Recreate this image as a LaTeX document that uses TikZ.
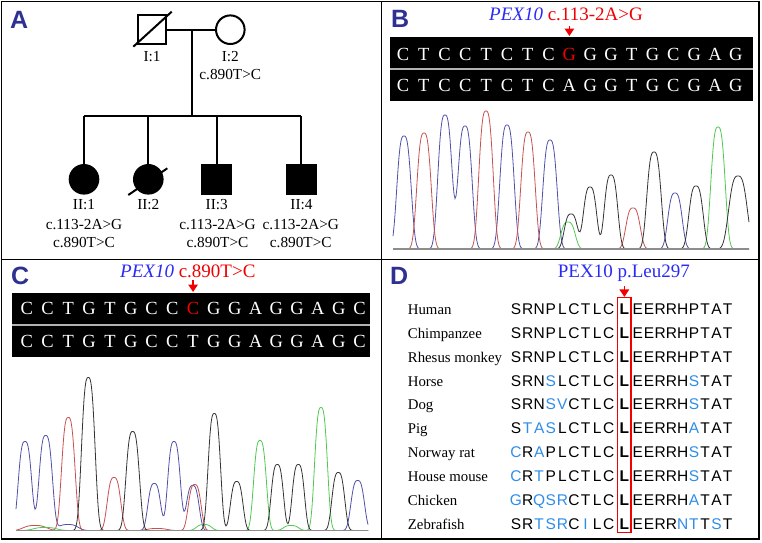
\documentclass[tikz,border=0pt]{standalone}
\usepackage{fontspec}
\setmainfont{Liberation Serif}
\newfontfamily\arialfont{Liberation Sans}
\usetikzlibrary{arrows.meta}

\definecolor{letterblue}{HTML}{2E3192}
\definecolor{geneblue}{HTML}{2A2AF5}
\definecolor{mutred}{HTML}{F00000}
\definecolor{aablue}{HTML}{2F8DE8}
\definecolor{trblue}{HTML}{5050A8}
\definecolor{trred}{HTML}{C85050}
\definecolor{trgreen}{HTML}{50C850}
\definecolor{trblack}{HTML}{333333}

\tikzset{
  panel/.style={line width=1.5pt},
  panelletter/.style={font=\arialfont\bfseries\fontsize{25}{25}\selectfont, text=letterblue, inner sep=0pt, anchor=base west},
  pedline/.style={line width=2pt},
  male/.style={draw, line width=2pt, rectangle, minimum size=28.6pt, inner sep=0pt},
  female/.style={draw, line width=2pt, circle, minimum size=28.6pt, inner sep=0pt},
  affected/.style={fill=black},
  pedlabel/.style={font=\fontsize{15.3}{15.3}\selectfont, inner sep=0pt, anchor=base},
  header/.style={font=\fontsize{19}{19}\selectfont, inner sep=0pt, anchor=base west},
  seqbar/.style={fill=black, inner sep=0pt},
  nuc/.style={font=\fontsize{18.5}{18.5}\selectfont, text=white, inner sep=0pt, anchor=base},
  mutarrow/.style={mutred, line width=1.6pt, -{Triangle[width=9.5pt,length=7.5pt]}},
  trace/.style={line width=0.8pt},
  chrombase/.style={draw=black!45, line width=1.3pt},
  species/.style={font=\fontsize{14.8}{14.8}\selectfont, inner sep=0pt, anchor=base west},
  residue/.style={font=\arialfont\fontsize{15.5}{15.5}\selectfont, inner sep=0pt, anchor=base},
}

\begin{document}
\begin{tikzpicture}[x=1pt, y=-1pt,
    declare function={pk(\xx,\cc,\hh,\ss)=\hh*exp(-min(abs((\xx-\cc)/\ss),3)^3);}]
    \useasboundingbox (0,0) rectangle (762,542);

    % frames
    \draw[panel] (1.5,1.5) rectangle (759,539);
    \draw[panel] (381.7,1.5) -- (381.7,539);
    \draw[panel] (1.5,259.3) -- (759,259.3);

    \node[panelletter] (pA) at (10,28) {A};
    \node[panelletter] (pB) at (391,27) {B};
    \node[panelletter] (pC) at (11,284) {C};
    \node[panelletter] (pD) at (390,284) {D};

    % pedigree
    \node[male] (I1) at (152,29.7) {};
    \node[female] (I2) at (230.3,29.7) {};
    \coordinate (mate) at (191.7,29.7);
    \coordinate (sib) at (191.7,116);
    \node[female, affected] (II1) at (84,179.3) {};
    \node[female, affected] (II2) at (148.3,179.3) {};
    \node[male, affected] (II3) at (216.7,179.3) {};
    \node[male, affected] (II4) at (301.2,179.3) {};

    \draw[pedline] (I1) -- (I2);
    \draw[pedline] (mate) -- (sib);
    \draw[pedline] (II1.north |- sib) -- (II4.north |- sib);
    \foreach \c in {II1,II2,II3,II4}
        \draw[pedline] (\c.north |- sib) -- (\c);
    \draw[pedline] ([shift={(-18.7,17)}]I1.center) -- ([shift={(19.7,-18)}]I1.center);
    \draw[pedline] ([shift={(-20,15.7)}]II2.center) -- ([shift={(19,-11)}]II2.center);

    \node[pedlabel] (tI1) at (152,61) {I:1};
    \node[pedlabel] (tI2) at (230.3,61) {I:2};
    \node[pedlabel] (gI2) at (230.3,79.3) {c.890T>C};
    \node[pedlabel] (tII1) at (84,209.3) {II:1};
    \node[pedlabel] (tII2) at (148.3,209.3) {II:2};
    \node[pedlabel] (tII3) at (216.7,209.3) {II:3};
    \node[pedlabel] (tII4) at (301.5,209.3) {II:4};
    \foreach \c/\x in {II1/84,II3/217.5,II4/300.8} {
        \node[pedlabel] (a\c) at (\x,229.3) {c.113-2A>G};
        \node[pedlabel] (b\c) at (\x,247.3) {c.890T>C};
    }

    % B: c.113-2A>G
    \node[header] (hdB) at (489,20.7) {\textcolor{geneblue}{\itshape PEX10} \textcolor{mutred}{c.113-2A>G}};
    \node[seqbar, minimum width=362.4pt, minimum height=31pt] (barB1) at (571.5,52.8) {};
    \node[seqbar, minimum width=362.4pt, minimum height=31.3pt] (barB2) at (571.5,85.35) {};
    \fill[black!30] (390.3,68.3) rectangle (752.7,69.7);
    \foreach \b [count=\i from 0] in {C,T,C,C,T,C,T,C,G,G,G,T,G,C,G,A,G} {
        \ifnum\i=8 \def\bc{mutred}\else\def\bc{white}\fi
        \node[nuc, text=\bc] (mB-\i) at (403+20.8*\i,60) {\b};
    }
    \foreach \b [count=\i from 0] in {C,T,C,C,T,C,T,C,A,G,G,T,G,C,G,A,G}
        \node[nuc] (wB-\i) at (403+20.8*\i,91.7) {\b};
    \draw[mutarrow] (mB-8 |- 0,25.5) -- (mB-8 |- 0,36);

    \draw[trace, trblue] plot[domain=393:749, samples=357] (\x, {249-pk(\x,404,113,8.5)-pk(\x,445,134,8.5)-pk(\x,465,123,8.5)-pk(\x,507,124,8.5)-pk(\x,550,109,8.5)-pk(\x,675,56,8.5)});
    \draw[trace, trred] plot[domain=393:749, samples=357] (\x, {249-pk(\x,424,116,8.5)-pk(\x,486,138,8.5)-pk(\x,528,117,8.5)-pk(\x,633,41,8.5)});
    \draw[trace, trgreen] plot[domain=393:749, samples=357] (\x, {249-pk(\x,568,27,8.5)-pk(\x,718,122,8.5)});
    \draw[trace, trblack] plot[domain=393:749, samples=357] (\x, {249-pk(\x,571,35,8)-pk(\x,590,62,8)-pk(\x,611,74,8)-pk(\x,654,97,8.5)-pk(\x,696,63,8.5)-pk(\x,738,73,11)});
    \draw[chrombase] (393,249) -- (749,249);

    % C: c.890T>C
    \node[header] (hdC) at (120,277) {\textcolor{geneblue}{\itshape PEX10} \textcolor{mutred}{c.890T>C}};
    \node[seqbar, minimum width=357.7pt, minimum height=31pt] (barC1) at (191.15,308.8) {};
    \node[seqbar, minimum width=357.7pt, minimum height=31pt] (barC2) at (191.15,341.5) {};
    \fill[black!30] (12.3,324.3) rectangle (370,326);
    \foreach \b [count=\i from 0] in {C,C,T,G,T,G,C,C,C,G,G,A,G,G,A,G,C} {
        \ifnum\i=8 \def\bc{mutred}\else\def\bc{white}\fi
        \node[nuc, text=\bc] (mC-\i) at (26.7+20.8*\i,314.3) {\b};
    }
    \foreach \b [count=\i from 0] in {C,C,T,G,T,G,C,C,T,G,G,A,G,G,A,G,C}
        \node[nuc] (wC-\i) at (26.7+20.8*\i,347.7) {\b};
    \draw[mutarrow] (mC-8 |- 0,280) -- (mC-8 |- 0,292);

    \draw[trace, trblue] plot[domain=16:368, samples=353] (\x, {530.5-pk(\x,25,89,8)-pk(\x,45.7,95,8)-pk(\x,68,6,12)-pk(\x,154.3,47,7.6)-pk(\x,174,89,7.6)-pk(\x,192.7,45,7.6)-pk(\x,357.7,50,8)});
    \draw[trace, trred] plot[domain=16:368, samples=353] (\x, {530.5-pk(\x,35,5,14)-pk(\x,68.3,113,8)-pk(\x,114,53,8)-pk(\x,157,2,12)-pk(\x,194.7,46,7.6)});
    \draw[trace, trgreen] plot[domain=16:368, samples=353] (\x, {530.5-pk(\x,45,3,14)-pk(\x,204,6,9)-pk(\x,260,90,7.6)-pk(\x,291,5,9)-pk(\x,321,123,7.6)});
    \draw[trace, trblack] plot[domain=16:368, samples=353] (\x, {530.5-pk(\x,88.3,153,8)-pk(\x,132.7,99,8)-pk(\x,214.3,117,7.4)-pk(\x,236.7,49,7.4)-pk(\x,277.3,66,7.3)-pk(\x,298.3,66,7.3)-pk(\x,338.3,58,7.6)});
    \draw[chrombase] (16,530.5) -- (368,530.5);

    % D: conservation
    \node[header, text=geneblue] (hdD) at (557.7,277) {PEX10 p.Leu297};
    \node[draw=mutred, line width=1.5pt, minimum width=13.3pt, minimum height=234.6pt, inner sep=0pt] (hl) at (624.35,415) {};
    \draw[mutarrow] (hl.north |- 0,286) -- (hl.north);

    \foreach \sp/\pre/\post [count=\r from 0] in {
        Human/{S,R,N,P,L,C,T,L,C}/{E,E,R,R,H,P,T,A,T},
        Chimpanzee/{S,R,N,P,L,C,T,L,C}/{E,E,R,R,H,P,T,A,T},
        Rhesus monkey/{S,R,N,P,L,C,T,L,C}/{E,E,R,R,H,P,T,A,T},
        Horse/{S,R,N,s,L,C,T,L,C}/{E,E,R,R,H,s,T,A,T},
        Dog/{S,R,N,s,v,C,T,L,C}/{E,E,R,R,H,s,T,A,T},
        Pig/{S,t,a,s,L,C,T,L,C}/{E,E,R,R,H,a,T,A,T},
        Norway rat/{c,R,a,P,L,C,T,L,C}/{E,E,R,R,H,s,T,A,T},
        House mouse/{c,R,t,P,L,C,T,L,C}/{E,E,R,R,H,s,T,A,T},
        Chicken/{g,R,q,s,r,C,T,L,C}/{E,E,R,R,H,a,T,A,T},
        Zebrafish/{S,R,t,s,r,C,i,L,C}/{E,E,R,R,n,t,T,s,T}} {
        \node[species] (sp\r) at (407.7,314.3+23.9*\r) {\sp};
        \foreach \a [count=\i from 0] in \pre {
            \expandafter\ifnum\expandafter`\a>90 \def\ac{aablue}\else\def\ac{black}\fi
            \node[residue, text=\ac] (pre\r-\i) at (516+11.6*\i,314.3+23.9*\r) {\uppercase\expandafter{\a}};
        }
        \node[residue, font=\arialfont\bfseries\fontsize{15.5}{15.5}\selectfont] (L\r) at (624.3,314.3+23.9*\r) {L};
        \foreach \a [count=\i from 0] in \post {
            \expandafter\ifnum\expandafter`\a>90 \def\ac{aablue}\else\def\ac{black}\fi
            \node[residue, text=\ac] (post\r-\i) at (637.7+11.25*\i,314.3+23.9*\r) {\uppercase\expandafter{\a}};
        }
    }
\end{tikzpicture}
\end{document}
